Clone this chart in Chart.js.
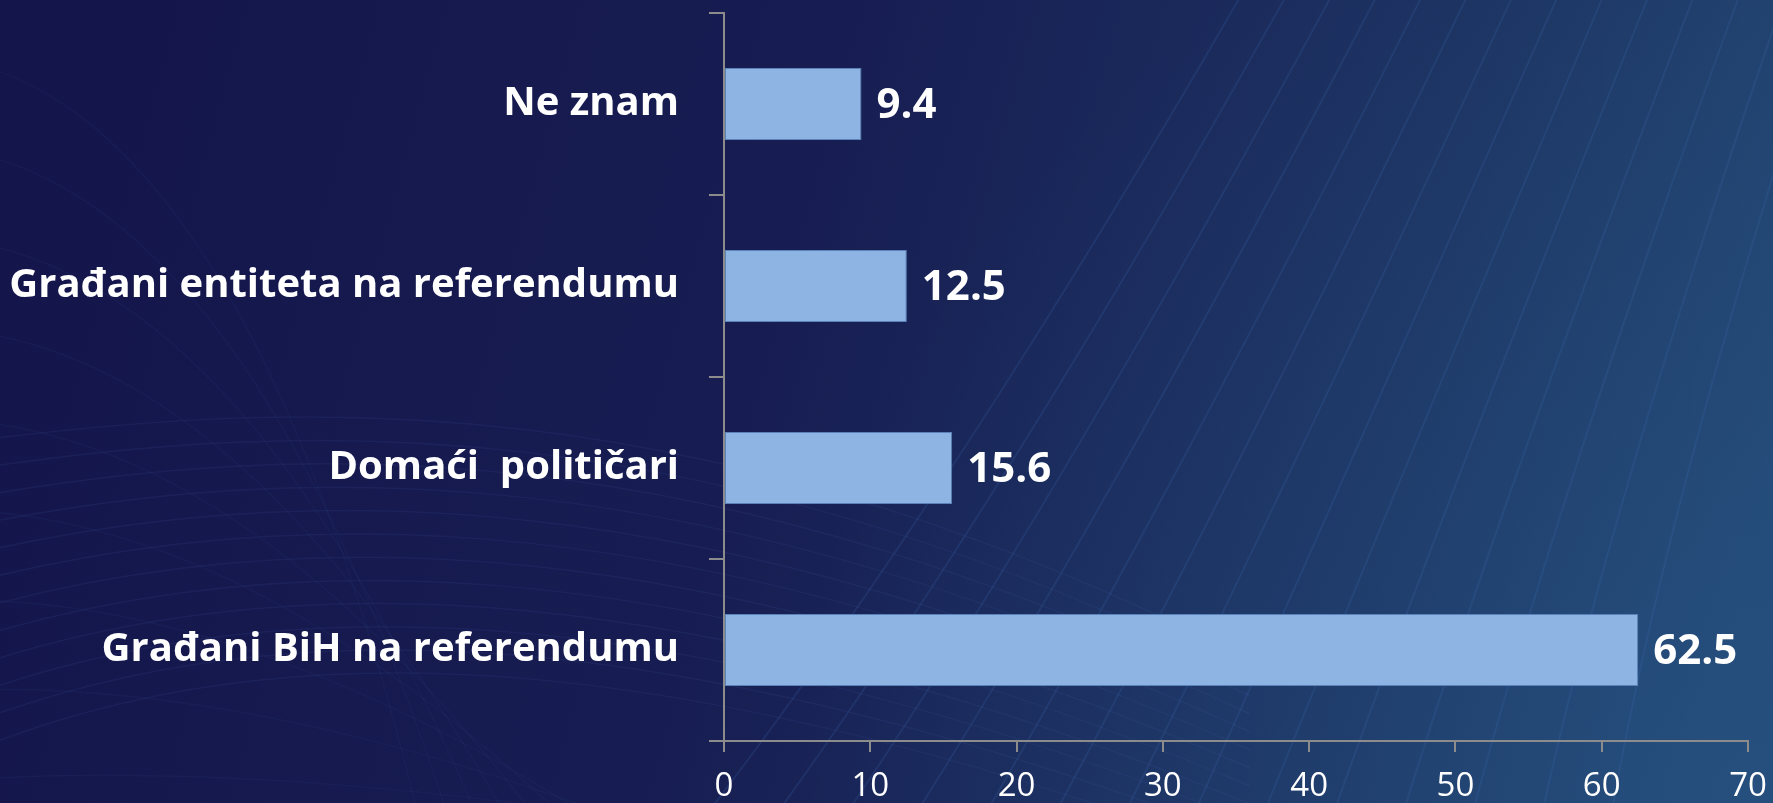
<!DOCTYPE html>
<html>
<head>
<meta charset="utf-8">
<script src="https://cdn.jsdelivr.net/npm/chart.js@4"></script>
<style>
  html, body { margin: 0; padding: 0; background: #15174a; }
  #wrap { width: 1773px; height: 803px; }
</style>
</head>
<body>
<div id="wrap"><canvas id="grafica" width="1773" height="803"></canvas></div>
<script>
// Podaci za grafikon
const kategorije = ['Ne znam', 'Građani entiteta na referendumu', 'Domaći  političari', 'Građani BiH na referendumu'];
const vrijednosti = [9.4, 12.5, 15.6, 62.5];
const xMin = 0;
const xMax = 70;
const xKorak = 10;

// Pozadina: tamnoplavi gradijent s blagim linijama
const pozadina = {
    id: 'pozadina',
    beforeDraw(chart) {
        const c = chart.ctx;
        const w = chart.width, h = chart.height;
        c.save();
        const g = c.createLinearGradient(0, 0, w, h * 0.6);
        g.addColorStop(0, '#14154a');
        g.addColorStop(0.45, '#171d52');
        g.addColorStop(0.8, '#1d3462');
        g.addColorStop(1, '#234672');
        c.fillStyle = g;
        c.fillRect(0, 0, w, h);

        // svijetliji donji desni dio
        const g2 = c.createRadialGradient(w, h, 0, w, h, w * 0.55);
        g2.addColorStop(0, 'rgba(40, 90, 140, 0.45)');
        g2.addColorStop(1, 'rgba(40, 90, 140, 0)');
        c.fillStyle = g2;
        c.fillRect(0, 0, w, h);

        // blage krivulje
        c.lineWidth = 2;
        c.strokeStyle = 'rgba(70, 120, 190, 0.16)';
        for (let i = 0; i < 14; i++) {
            c.beginPath();
            c.moveTo(1250 + i * 45, -20);
            c.quadraticCurveTo(950 + i * 55, 500, 700 + i * 70, h + 20);
            c.stroke();
        }
        c.lineWidth = 1.5;
        c.strokeStyle = 'rgba(70, 100, 170, 0.12)';
        for (let i = 0; i < 12; i++) {
            c.beginPath();
            c.moveTo(-20, 440 + i * 28);
            c.bezierCurveTo(300, 400 + i * 20, 700, 380 + i * 25, 1250, 660 + i * 18);
            c.stroke();
        }
        c.strokeStyle = 'rgba(70, 100, 170, 0.08)';
        for (let i = 0; i < 10; i++) {
            c.beginPath();
            c.moveTo(-40, 60 + i * 90);
            c.quadraticCurveTo(250, 120 + i * 80, 420 + i * 30, h + 20);
            c.stroke();
        }
        c.restore();
    }
};

// Vrijednosti desno od traka
const oznake = {
    id: 'oznake',
    afterDatasetsDraw(chart) {
        const c = chart.ctx;
        const meta = chart.getDatasetMeta(0);
        c.save();
        c.fillStyle = '#ffffff';
        c.font = 'bold 42px "Open Sans"';
        c.textAlign = 'left';
        c.textBaseline = 'middle';
        meta.data.forEach(function(bar, i) {
            c.fillText(vrijednosti[i].toFixed(1), bar.x + 15, bar.y + 2);
        });
        c.restore();
    }
};

const ctx = document.getElementById('grafica').getContext('2d');
const chart = new Chart(ctx, {
    type: 'bar',
    data: {
        labels: kategorije,
        datasets: [{
            data: vrijednosti,
            backgroundColor: '#8eb4e3',
            borderColor: '#5b82b8',
            borderWidth: 1,
            borderSkipped: false,
            categoryPercentage: 1,
            barPercentage: 0.396
        }]
    },
    options: {
        indexAxis: 'y',
        responsive: false,
        animation: false,
        devicePixelRatio: 1,
        layout: { padding: { top: 13, right: 25, left: 0, bottom: 0 } },
        plugins: {
            legend: { display: false },
            tooltip: { enabled: false }
        },
        scales: {
            x: {
                min: xMin,
                max: xMax,
                border: { color: '#8c8c8c', width: 2 },
                grid: {
                    drawOnChartArea: false,
                    drawTicks: true,
                    tickLength: 11,
                    color: '#8c8c8c',
                    lineWidth: 2
                },
                ticks: {
                    stepSize: xKorak,
                    color: '#ffffff',
                    padding: 15,
                    font: { family: 'Open Sans', size: 33 }
                },
                afterFit(scale) {
                    scale.height = 62;
                    scale.paddingLeft = 0;
                    scale.paddingRight = 0;
                }
            },
            y: {
                border: { color: '#8c8c8c', width: 2 },
                grid: {
                    drawOnChartArea: false,
                    drawTicks: true,
                    tickLength: 15,
                    color: '#8c8c8c',
                    lineWidth: 2
                },
                ticks: {
                    color: '#ffffff',
                    padding: 30,
                    font: { family: 'Open Sans', size: 40, weight: 'bold' }
                },
                afterFit(scale) {
                    scale.width = 724;
                    scale.paddingTop = 0;
                    scale.paddingBottom = 0;
                }
            }
        }
    },
    plugins: [pozadina, oznake]
});
</script>
</body>
</html>
